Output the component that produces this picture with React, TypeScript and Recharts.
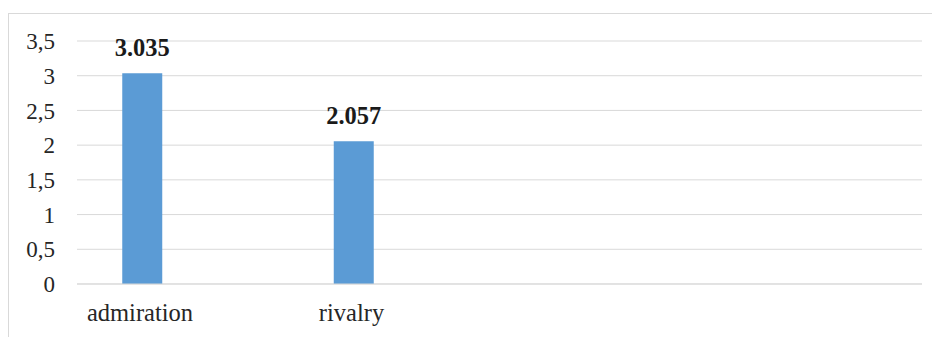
import React from "react";
import {
  BarChart,
  Bar,
  XAxis,
  YAxis,
  CartesianGrid,
  LabelList,
} from "recharts";

// categories and their mean scores
const categories = ["admiration", "rivalry"];
const scores = [3.035, 2.057];
const yTicks = [0, 0.5, 1, 1.5, 2, 2.5, 3, 3.5];

const data = categories.map((name, i) => ({ name, value: scores[i] }));

const FONT = "Liberation Serif";

const App: React.FC = () => {
  return (
    <div
      style={{
        marginTop: 5,
        width: 931,
        height: 323,
        borderTop: "1px solid #d9d9d9",
        borderLeft: "1px solid #d9d9d9",
      }}
    >
      <BarChart
        width={931}
        height={323}
        data={data}
        margin={{ top: 27, right: 18, bottom: 0, left: 0 }}
      >
        <CartesianGrid vertical={false} stroke="#d9d9d9" />
        <XAxis
          dataKey="name"
          height={53}
          padding={{ left: -40.75, right: 462.75 }}
          axisLine={{ stroke: "#d9d9d9" }}
          tickLine={false}
          tickSize={0}
          tickMargin={20}
          tick={{ fill: "#262626", fontSize: 24.5, fontFamily: FONT, dx: -2 }}
        />
        <YAxis
          width={68}
          domain={[0, 3.5]}
          ticks={yTicks}
          axisLine={false}
          tickLine={false}
          tickSize={0}
          tickMargin={22}
          tickFormatter={(v: number) => String(v).replace(".", ",")}
          tick={{ fill: "#262626", fontSize: 23, fontFamily: FONT }}
        />
        <Bar dataKey="value" fill="#5b9bd5" barSize={40} isAnimationActive={false}>
          <LabelList
            dataKey="value"
            position="top"
            offset={17}
            formatter={(v: any) => Number(v).toFixed(3)}
            fill="#1a1a1a"
            fontSize={24.5}
            fontWeight="bold"
            fontFamily={FONT}
          />
        </Bar>
      </BarChart>
    </div>
  );
};

export default App;
